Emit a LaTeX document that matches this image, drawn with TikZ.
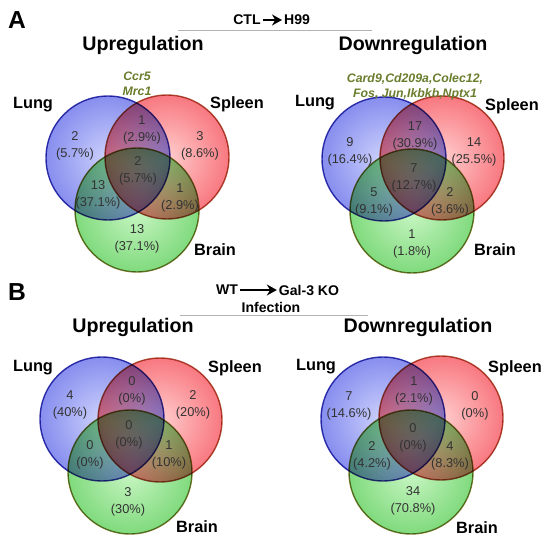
\documentclass[tikz,border=0pt]{standalone}
\usepackage{fontspec}
\setmainfont{Liberation Sans}
\usetikzlibrary{arrows.meta,positioning}
\definecolor{lungin}{RGB}{205,210,252}
\definecolor{lungout}{RGB}{135,142,238}
\definecolor{lungline}{RGB}{60,60,175}
\definecolor{spleenin}{RGB}{255,205,205}
\definecolor{spleenout}{RGB}{248,120,128}
\definecolor{spleenline}{RGB}{175,85,60}
\definecolor{brainin}{RGB}{200,246,195}
\definecolor{brainout}{RGB}{128,218,125}
\definecolor{brainline}{RGB}{125,120,45}
\definecolor{genegreen}{RGB}{105,125,45}
\tikzset{%
  >={Stealth[width=2.2mm,length=2mm]},
  % Specifications for style of nodes:
       venn/.style = {circle, inner sep=0pt, minimum size=2.48cm, line width=0.8pt},
    lungset/.style = {venn, inner color=lungin, outer color=lungout, draw=lungline},
  spleenset/.style = {venn, inner color=spleenin, outer color=spleenout, draw=spleenline},
   brainset/.style = {venn, inner color=brainin, outer color=brainout, draw=brainline},
    setname/.style = {font=\bfseries\fontsize{9.3}{11}\selectfont},
   vtitle/.style = {font=\bfseries\fontsize{11.2}{13}\selectfont},
      count/.style = {align=center, text=black!80, font=\fontsize{7.3}{9.6}\selectfont},
      genes/.style = {align=center, text=genegreen, font=\bfseries\itshape\fontsize{7}{8.5}\selectfont},
     header/.style = {font=\bfseries\fontsize{8}{9.5}\selectfont, inner sep=1pt},
      panel/.style = {font=\bfseries\fontsize{14}{16}\selectfont},
}

\begin{document}
\begin{tikzpicture}[x=0.02cm, y=-0.02cm]
  \useasboundingbox (0,0) rectangle (550,543);

  % Circles of the four diagrams
  \begin{scope}[blend group=multiply]
    \node (au lung)   [lungset]   at (108,158) {};
    \node (au spleen) [spleenset] at (167,157) {};
    \node (au brain)  [brainset]  at (137,210) {};
    \node (ad lung)   [lungset]   at (384,159) {};
    \node (ad spleen) [spleenset] at (442,158) {};
    \node (ad brain)  [brainset]  at (412,211) {};
    \node (bu lung)   [lungset]   at (102,419) {};
    \node (bu spleen) [spleenset] at (160,420) {};
    \node (bu brain)  [brainset]  at (130,472) {};
    \node (bd lung)   [lungset]   at (383,419) {};
    \node (bd spleen) [spleenset] at (441,418) {};
    \node (bd brain)  [brainset]  at (411,472) {};
  \end{scope}

  % Panel A
  \node (A)        [panel]  at (17,20) {A};
  \node (ctl)      [header] at (247,20) {CTL};
  \node (h99)      [header] at (297,20) {H99};
  \draw[->, line width=1.3pt] (ctl) -- (h99);
  \coordinate (a rule l) at (178,30);
  \coordinate (a rule r) at (372,30);
  \draw[black!30, line width=0.5pt] (a rule l) -- (a rule r);

  \node (au title)  [vtitle]  at (143,45)  {Upregulation};
  \node (au genes)  [genes]   at (137,84)  {Ccr5\\Mrc1};
  \node (au lungn)  [setname] at (33,105)  {Lung};
  \node (au splnn)  [setname] at (237,104) {Spleen};
  \node (au brainn) [setname] at (215,250) {Brain};
  \node (au l)   [count] at (75,146)  {2\\(5.7\%)};
  \node (au ls)  [count] at (142,130) {1\\(2.9\%)};
  \node (au s)   [count] at (200,146) {3\\(8.6\%)};
  \node (au lsb) [count] at (138,171) {2\\(5.7\%)};
  \node (au lb)  [count] at (98,195)  {13\\(37.1\%)};
  \node (au sb)  [count] at (180,198) {1\\(2.9\%)};
  \node (au b)   [count] at (137,239) {13\\(37.1\%)};

  \node (ad title)  [vtitle]  at (413,45)  {Downregulation};
  \node (ad genes)  [genes]   at (415,87)  {Card9,Cd209a,Colec12,\\Fos, Jun,Ikbkb,Nptx1};
  \node (ad lungn)  [setname] at (315,103) {Lung};
  \node (ad splnn)  [setname] at (512,106) {Spleen};
  \node (ad brainn) [setname] at (495,250) {Brain};
  \node (ad l)   [count] at (350,152) {9\\(16.4\%)};
  \node (ad ls)  [count] at (415,136) {17\\(30.9\%)};
  \node (ad s)   [count] at (474,152) {14\\(25.5\%)};
  \node (ad lsb) [count] at (414,178) {7\\(12.7\%)};
  \node (ad lb)  [count] at (374,202) {5\\(9.1\%)};
  \node (ad sb)  [count] at (450,202) {2\\(3.6\%)};
  \node (ad b)   [count] at (412,244) {1\\(1.8\%)};

  % Panel B
  \node (B)        [panel]  at (17,292) {B};
  \node (wt)       [header] at (227,290) {WT};
  \node (gal3)     [header] at (309,290) {Gal-3 KO};
  \draw[->, line width=1.3pt] (wt) -- (gal3);
  \node (infect)   [header] at (271,307) {Infection};
  \coordinate (b rule l) at (180,315);
  \coordinate (b rule r) at (368,315);
  \draw[black!30, line width=0.5pt] (b rule l) -- (b rule r);

  \node (bu title)  [vtitle]  at (133,327) {Upregulation};
  \node (bu lungn)  [setname] at (33,368)  {Lung};
  \node (bu splnn)  [setname] at (235,368) {Spleen};
  \node (bu brainn) [setname] at (197,527) {Brain};
  \node (bu l)   [count] at (70,405)  {4\\(40\%)};
  \node (bu ls)  [count] at (132,391) {0\\(0\%)};
  \node (bu s)   [count] at (193,405) {2\\(20\%)};
  \node (bu lsb) [count] at (129,435) {0\\(0\%)};
  \node (bu lb)  [count] at (90,455)  {0\\(0\%)};
  \node (bu sb)  [count] at (169,455) {1\\(10\%)};
  \node (bu b)   [count] at (128,502) {3\\(30\%)};

  \node (bd title)  [vtitle]  at (418,327) {Downregulation};
  \node (bd lungn)  [setname] at (316,367) {Lung};
  \node (bd splnn)  [setname] at (515,368) {Spleen};
  \node (bd brainn) [setname] at (477,528) {Brain};
  \node (bd l)   [count] at (349,406) {7\\(14.6\%)};
  \node (bd ls)  [count] at (414,391) {1\\(2.1\%)};
  \node (bd s)   [count] at (475,406) {0\\(0\%)};
  \node (bd lsb) [count] at (413,438) {0\\(0\%)};
  \node (bd lb)  [count] at (372,456) {2\\(4.2\%)};
  \node (bd sb)  [count] at (450,456) {4\\(8.3\%)};
  \node (bd b)   [count] at (413,501) {34\\(70.8\%)};

\end{tikzpicture}
\end{document}
